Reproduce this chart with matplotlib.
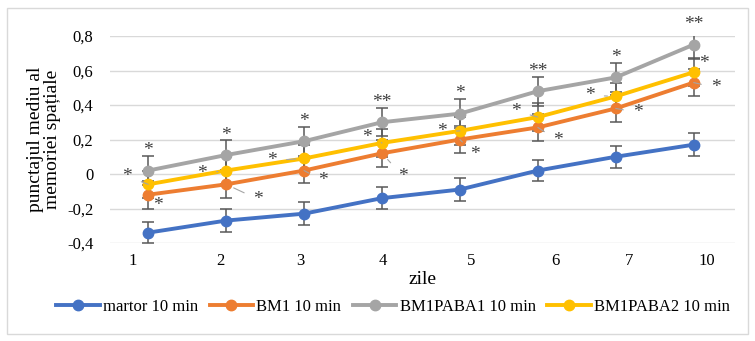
#!/usr/bin/env python3
"""
Spatial memory score over days - line chart with error bars and significance stars
"""

import matplotlib
matplotlib.use("Agg")
import matplotlib.pyplot as plt
from matplotlib.patches import Rectangle

# Data
days = ["1", "2", "3", "4", "5", "6", "7", "10"]
series_names = ["martor 10 min", "BM1 10 min", "BM1PABA1 10 min", "BM1PABA2 10 min"]
martor = [-0.34, -0.27, -0.23, -0.14, -0.09, 0.02, 0.10, 0.17]
bm1 = [-0.12, -0.06, 0.02, 0.12, 0.20, 0.27, 0.38, 0.53]
paba1 = [0.02, 0.11, 0.19, 0.30, 0.35, 0.48, 0.56, 0.75]
paba2 = [-0.06, 0.02, 0.09, 0.18, 0.25, 0.33, 0.45, 0.59]
err_martor = [0.06, 0.065, 0.065, 0.065, 0.065, 0.06, 0.065, 0.065]
err_bm1 = [0.08, 0.08, 0.075, 0.08, 0.08, 0.08, 0.08, 0.08]
err_paba1 = [0.085, 0.085, 0.085, 0.08, 0.085, 0.085, 0.085, 0.085]
err_paba2 = [0.08, 0.08, 0.08, 0.08, 0.08, 0.08, 0.08, 0.08]
stars_bm1 = ["*", "*", "*", "*", "*", "*", "*", "*"]
stars_paba1 = ["*", "*", "*", "**", "*", "**", "*", "**"]
stars_paba2 = ["*", "*", "*", "*", "*", "*", "*", "*"]

# Styling
COLORS = ["#4472C4", "#ED7D31", "#A5A5A5", "#FFC000"]
GRID = "#D9D9D9"
ERRC = "#595959"
# label offsets in pixels (dx, dy up)
OFF_BM1 = [(10, -6), (32, -10), (19, -5), (21, -18), (15, -10), (20, -8), (22, 1), (22, 0)]
OFF_PABA1 = [(0, 25)] * 8
OFF_PABA2 = [(-21, 13), (-24, 2), (-32, 3), (-15, 10), (-18, 4), (-22, 11), (-26, 6), (10, 14)]

plt.rcParams["font.family"] = ["Liberation Serif", "DejaVu Serif"]

fig = plt.figure(figsize=(7.55, 3.41), dpi=100)
fig.patches.append(Rectangle((7 / 755, 1 - 334 / 341), 741 / 755, 326 / 341,
                             transform=fig.transFigure, fill=False,
                             edgecolor="#D9D9D9", lw=1))
ax = fig.add_axes([110 / 755, 1 - 243 / 341, 625 / 755, 207 / 341])

x = list(range(len(days)))
values = [martor, bm1, paba1, paba2]
errors = [err_martor, err_bm1, err_paba1, err_paba2]

for vals, errs, color, name in zip(values, errors, COLORS, series_names):
    ax.errorbar(x, vals, yerr=errs, fmt="none", ecolor=ERRC, elinewidth=1.1,
                capsize=4, capthick=1.1, zorder=3)
    ax.plot(x, vals, "-o", color=color, lw=2.8, ms=7.5, label=name, zorder=4,
            clip_on=False)


def put_stars(vals, labels, offsets):
    for xi, yi, lab, (dx, dy) in zip(x, vals, labels, offsets):
        dist = (dx ** 2 + dy ** 2) ** 0.5
        arrow = None
        if dist > 18 and abs(dy) < 20:
            arrow = dict(arrowstyle="-", color="#A5A5A5", lw=0.8, shrinkA=5, shrinkB=6)
        ax.annotate(lab, (xi, yi), xytext=(dx, dy - 5), textcoords="offset pixels",
                    ha="center", va="center", fontsize=14, color="#404040",
                    arrowprops=arrow, annotation_clip=False, zorder=5)


put_stars(bm1, stars_bm1, OFF_BM1)
put_stars(paba1, stars_paba1, OFF_PABA1)
put_stars(paba2, stars_paba2, OFF_PABA2)

ax.set_xlim(-0.49, 7.53)
ax.set_ylim(-0.4, 0.8)
yt = [-0.4, -0.2, 0, 0.2, 0.4, 0.6, 0.8]
ax.set_yticks(yt)
ax.set_yticklabels(["0" if v == 0 else f"{v:.1f}".replace(".", ",") for v in yt])
# category labels sit offset from the points in the original
tick_pos = [-0.2, 0.92, 1.95, 3.01, 4.15, 5.22, 6.17, 7.17]
ax.set_xticks(tick_pos)
ax.set_xticklabels(days)
ax.tick_params(axis="both", length=0, labelsize=12, colors="black")
ax.tick_params(axis="y", pad=12)
ax.tick_params(axis="x", pad=7)
ax.grid(axis="y", color=GRID, lw=1)
ax.set_axisbelow(True)
for s in ax.spines.values():
    s.set_visible(False)

ax.set_xlabel("zile", fontsize=14, labelpad=2)
ax.set_ylabel("punctajul mediu al\nmemoriei spațiale", fontsize=14,
              linespacing=1.0, labelpad=4)

ax.legend(loc="center", bbox_to_anchor=(393 / 755, 1 - 307 / 341),
          bbox_transform=fig.transFigure, ncol=4, frameon=False, fontsize=12,
          handlelength=2.6, handletextpad=0.2, columnspacing=0.7)

fig.savefig("out.png", dpi=100)
